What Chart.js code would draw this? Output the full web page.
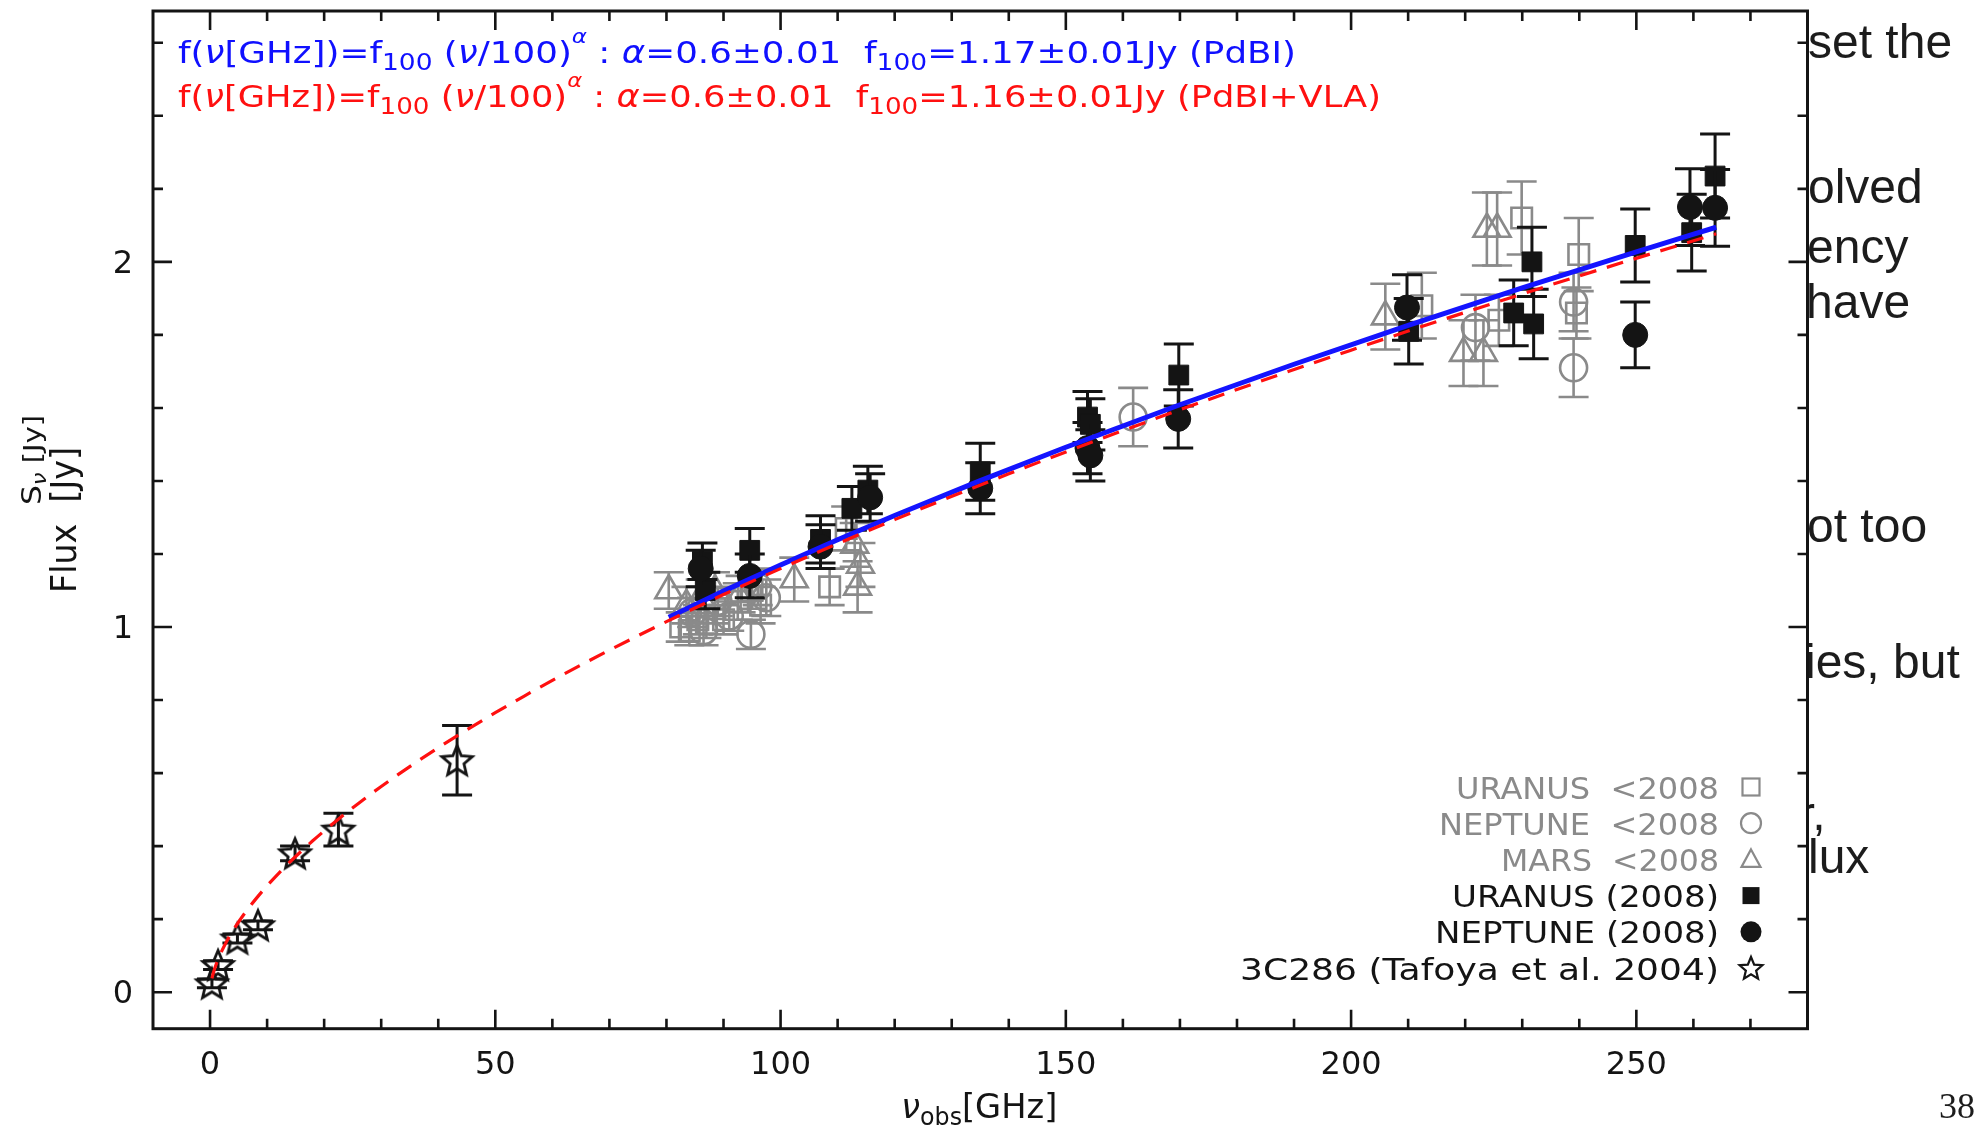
<!DOCTYPE html>
<html>
<head>
<meta charset="utf-8">
<title>Flux calibration: spectral index fit</title>
<script src="https://cdn.jsdelivr.net/npm/chart.js@4.4.1/dist/chart.umd.min.js"></script>
<style>
  html, body { margin: 0; padding: 0; background: #fff; width: 1985px; height: 1127px; overflow: hidden; }
  #fluxChart { position: absolute; left: 0; top: 0; filter: blur(0.75px); }
  #slideText { position: absolute; left: 1809px; top: 0; width: 176px; height: 1127px; overflow: hidden; }
  .line { position: absolute; white-space: nowrap; font-family: "Liberation Sans", Arial, sans-serif;
          font-size: 48px; line-height: 48px; color: #1c1c1c; }
  #pageNo { position: absolute; left: 1939px; top: 1088px; font-family: "Liberation Serif", "Times New Roman", serif;
            font-size: 36px; line-height: 36px; color: #1c1c1c; }
</style>
</head>
<body>
<canvas id="fluxChart" width="1985" height="1127"></canvas>
<div id="slideText">
  <div class="line" style="left:-1px; top:17.7px">set the</div>
  <div class="line" style="left:-1px; top:162.7px">olved</div>
  <div class="line" style="left:-2px; top:222.7px">ency</div>
  <div class="line" style="left:-3px; top:278px">have</div>
  <div class="line" style="left:-2px; top:502px">ot too</div>
  <div class="line" style="left:-4px; top:638px">ies, but</div>
  <div class="line" style="left:-10px; top:790px">r,</div>
  <div class="line" style="left:-1px; top:832.7px">lux</div>
</div>
<div id="pageNo">38</div>

<script>
// ---------------------------------------------------------------------------
// Measured flux densities: frequency [GHz], flux [Jy], 1-sigma error [Jy]
// ---------------------------------------------------------------------------
const seriesNames = [
  'URANUS  <2008', 'NEPTUNE  <2008', 'MARS  <2008',
  'URANUS (2008)', 'NEPTUNE (2008)', '3C286 (Tafoya et al. 2004)'
];

// Uranus, archival (< 2008)
const uranusOldFreq = [82.5, 84.0, 85.5, 87.0, 88.5, 90.0, 92.5, 95.0, 96.5, 108.6, 111.5, 212.4, 225.9, 229.9, 239.9, 239.5];
const uranusOldFlux = [1.00, 0.99, 1.02, 1.01, 1.05, 1.02, 1.07, 1.10, 1.06, 1.11, 1.27, 1.88, 1.84, 2.12, 2.02, 1.86];
const uranusOldErr  = [0.04, 0.04, 0.04, 0.04, 0.04, 0.04, 0.05, 0.05, 0.05, 0.05, 0.06, 0.09, 0.07, 0.10, 0.10, 0.07];

// Neptune, archival (< 2008)
const neptuneOldFreq = [84.5, 86.5, 89.0, 91.0, 94.8, 96.0, 97.5, 161.8, 221.8, 239.0, 239.0];
const neptuneOldFlux = [1.04, 0.99, 1.07, 1.03, 0.98, 1.11, 1.08, 1.575, 1.82, 1.89, 1.71];
const neptuneOldErr  = [0.04, 0.04, 0.04, 0.04, 0.04, 0.05, 0.05, 0.08, 0.09, 0.08, 0.08];

// Mars, archival (< 2008)
const marsOldFreq = [80.4, 83.5, 86.0, 88.5, 93.0, 102.4, 113.0, 113.5, 114.0, 206.0, 219.7, 223.2, 223.8, 225.6];
const marsOldFlux = [1.10, 1.06, 1.08, 1.10, 1.09, 1.13, 1.225, 1.11, 1.17, 1.85, 1.75, 1.75, 2.09, 2.09];
const marsOldErr  = [0.05, 0.05, 0.05, 0.05, 0.05, 0.06, 0.06, 0.07, 0.06, 0.09, 0.09, 0.09, 0.10, 0.10];

// Uranus, 2008 campaign
const uranusFreq = [86.3, 86.8, 94.6, 107.0, 112.5, 115.3, 135.0, 153.8, 154.3, 169.8, 210.1, 228.5, 231.7, 232.0, 249.8, 259.7, 263.8];
const uranusFlux = [1.18, 1.10, 1.21, 1.24, 1.325, 1.375, 1.425, 1.575, 1.555, 1.69, 1.81, 1.86, 2.00, 1.83, 2.045, 2.08, 2.235];
const uranusErr  = [0.05, 0.05, 0.06, 0.065, 0.06, 0.065, 0.078, 0.07, 0.07, 0.085, 0.09, 0.09, 0.095, 0.095, 0.10, 0.105, 0.115];

// Neptune, 2008 campaign
const neptuneFreq = [86.0, 94.6, 107.0, 115.7, 135.0, 153.8, 154.3, 169.7, 209.8, 249.8, 259.4, 263.8];
const neptuneFlux = [1.16, 1.14, 1.22, 1.355, 1.38, 1.49, 1.47, 1.57, 1.875, 1.80, 2.15, 2.148];
const neptuneErr  = [0.05, 0.06, 0.06, 0.065, 0.07, 0.07, 0.07, 0.08, 0.09, 0.09, 0.105, 0.105];

// 3C286, VLA bands (Tafoya et al. 2004)
const q3c286Freq = [0.33, 1.4, 4.8, 8.4, 14.9, 22.5, 43.3];
const q3c286Flux = [0.024, 0.074, 0.147, 0.183, 0.38, 0.445, 0.635];
const q3c286Err  = [0.012, 0.012, 0.012, 0.012, 0.02, 0.045, 0.095];

// Power-law fits f(nu) = f100 * (nu/100)^alpha
const fitAlpha = 0.6, fitAlphaErr = 0.01;
const f100PdBI = 1.17, f100PdBIErr = 0.01;
const f100PdBIVLA = 1.16, f100PdBIVLAErr = 0.01;
const fitFreqPdBI = [80.4, 85, 90, 100, 110, 120, 135, 150, 170, 190, 210, 230, 250, 264];
const fitFreqPdBIVLA = [0.33, 0.6, 1, 1.5, 2, 3, 4, 5, 6.5, 8, 10, 12.5, 15, 18, 22, 26, 30, 35, 40, 45, 50,
                        55, 60, 65, 70, 75, 80, 90, 100, 120, 140, 160, 180, 200, 220, 240, 264];

// Axis ranges and labelled ticks
const xMin = -10, xMax = 280;
const yMin = -0.1, yMax = 2.687;
const xTickValues = [0, 50, 100, 150, 200, 250];
const yTickValues = [0, 1, 2];

// ---------------------------------------------------------------------------
const W = 1985, H = 1127;
const PLOT = { left: 153, top: 11, right: 1807.5, bottom: 1028.7 };
const FONT = '"DejaVu Sans", "Noto Sans", sans-serif';
const GRAY = '#8a8a8a';
const INK = '#141414';

const toPoints = (xs, ys) => xs.map((x, i) => ({ x, y: ys[i] }));
const powerLaw = (f100, nus) => nus.map(nu => ({ x: nu, y: f100 * Math.pow(nu / 100, fitAlpha) }));

// five-pointed open star used as a point style
function makeStar(outer, lw, color) {
  const pad = Math.ceil(lw) + 2;
  const size = Math.ceil(2 * outer + 2 * pad);
  const c = document.createElement('canvas');
  c.width = size; c.height = size;
  const g = c.getContext('2d');
  const cx = size / 2, cy = size / 2 + outer * 0.08, inner = outer * 0.45;
  g.beginPath();
  for (let i = 0; i < 10; i++) {
    const r = i % 2 ? inner : outer;
    const a = -Math.PI / 2 + i * Math.PI / 5;
    const px = cx + r * Math.cos(a), py = cy + r * Math.sin(a);
    if (i) g.lineTo(px, py); else g.moveTo(px, py);
  }
  g.closePath();
  g.lineWidth = lw; g.strokeStyle = color; g.lineJoin = 'miter';
  g.stroke();
  return c;
}
const starMarker = makeStar(16, 2.8, INK);
const starLegend = makeStar(12, 2.2, INK);

function scatterSet(label, xs, ys, errs, style, opts) {
  return Object.assign({
    label, type: 'scatter', data: toPoints(xs, ys), errorBars: errs,
    pointStyle: style, showLine: false
  }, opts);
}

const datasets = [
  { label: 'fit PdBI+VLA', type: 'line', data: powerLaw(f100PdBIVLA, fitFreqPdBIVLA),
    borderColor: '#ff1010', borderWidth: 3.2, borderDash: [17, 11], pointRadius: 0,
    cubicInterpolationMode: 'monotone', order: 0 },
  { label: 'fit PdBI', type: 'line', data: powerLaw(f100PdBI, fitFreqPdBI),
    borderColor: '#1414ff', borderWidth: 5, pointRadius: 0,
    cubicInterpolationMode: 'monotone', order: 1 },
  scatterSet(seriesNames[5], q3c286Freq, q3c286Flux, q3c286Err, starMarker,
    { errColor: INK, errWidth: 3, order: 2 }),
  scatterSet(seriesNames[4], neptuneFreq, neptuneFlux, neptuneErr, 'circle',
    { pointRadius: 12.5, pointBackgroundColor: INK, pointBorderColor: INK, pointBorderWidth: 1,
      errColor: INK, errWidth: 3, order: 3 }),
  scatterSet(seriesNames[3], uranusFreq, uranusFlux, uranusErr, 'rect',
    { pointRadius: 14, pointBackgroundColor: INK, pointBorderColor: INK, pointBorderWidth: 1,
      errColor: INK, errWidth: 3, order: 4 }),
  scatterSet(seriesNames[2], marsOldFreq, marsOldFlux, marsOldErr, 'triangle',
    { pointRadius: 15.5, pointBackgroundColor: 'rgba(0,0,0,0)', pointBorderColor: GRAY, pointBorderWidth: 2.6,
      errColor: GRAY, errWidth: 2.6, order: 5 }),
  scatterSet(seriesNames[1], neptuneOldFreq, neptuneOldFlux, neptuneOldErr, 'circle',
    { pointRadius: 13.5, pointBackgroundColor: 'rgba(0,0,0,0)', pointBorderColor: GRAY, pointBorderWidth: 2.6,
      errColor: GRAY, errWidth: 2.6, order: 6 }),
  scatterSet(seriesNames[0], uranusOldFreq, uranusOldFlux, uranusOldErr, 'rect',
    { pointRadius: 14.5, pointBackgroundColor: 'rgba(0,0,0,0)', pointBorderColor: GRAY, pointBorderWidth: 2.6,
      errColor: GRAY, errWidth: 2.6, order: 7 })
];

// vertical error bars with caps, drawn just under each dataset's markers
const errorBarPlugin = {
  id: 'errorBars',
  beforeDatasetDraw(chart, args) {
    const ds = chart.data.datasets[args.index];
    if (!ds.errorBars) return;
    const { ctx, scales: { x, y } } = chart;
    const cap = 15;
    ctx.save();
    ctx.strokeStyle = ds.errColor; ctx.lineWidth = ds.errWidth; ctx.lineCap = 'butt';
    ds.data.forEach((p, i) => {
      const e = ds.errorBars[i];
      const px = x.getPixelForValue(p.x);
      const yTop = y.getPixelForValue(p.y + e), yBot = y.getPixelForValue(p.y - e);
      ctx.beginPath();
      ctx.moveTo(px, yTop); ctx.lineTo(px, yBot);
      ctx.moveTo(px - cap, yTop); ctx.lineTo(px + cap, yTop);
      ctx.moveTo(px - cap, yBot); ctx.lineTo(px + cap, yBot);
      ctx.stroke();
    });
    ctx.restore();
  }
};

// box frame with inward major/minor ticks on all four sides
const framePlugin = {
  id: 'frame',
  afterDatasetsDraw(chart) {
    const { ctx, chartArea: a, scales: { x, y } } = chart;
    ctx.save();
    ctx.strokeStyle = INK; ctx.lineWidth = 2.6;
    ctx.beginPath();
    for (let v = -10; v <= 280; v += 10) {
      const px = x.getPixelForValue(v);
      if (px <= a.left + 1 || px >= a.right - 1) continue;
      const len = v % 50 === 0 ? 19 : 10;
      ctx.moveTo(px, a.bottom); ctx.lineTo(px, a.bottom - len);
      ctx.moveTo(px, a.top); ctx.lineTo(px, a.top + len);
    }
    for (let k = 0; k <= 13; k++) {
      const v = k * 0.2;
      const py = y.getPixelForValue(v);
      const len = k % 5 === 0 ? 19 : 10;
      ctx.moveTo(a.left, py); ctx.lineTo(a.left + len, py);
      ctx.moveTo(a.right, py); ctx.lineTo(a.right - len, py);
    }
    ctx.stroke();
    ctx.lineWidth = 3;
    ctx.strokeRect(a.left, a.top, a.right - a.left, a.bottom - a.top);
    ctx.restore();
  }
};

// text run made of pieces with their own size, italics and baseline shift,
// squeezed horizontally to a given overall width
function drawRun(ctx, pieces, x, baseline, width, color, align) {
  let total = 0;
  const sized = pieces.map(p => {
    ctx.font = (p.it ? 'italic ' : '') + p.size + 'px ' + FONT;
    const w = ctx.measureText(p.t).width;
    total += w;
    return Object.assign({ w }, p);
  });
  const sx = width ? width / total : 1;
  ctx.save();
  ctx.fillStyle = color;
  ctx.textBaseline = 'alphabetic';
  ctx.textAlign = 'left';
  const startX = align === 'right' ? x - total * sx : align === 'center' ? x - total * sx / 2 : x;
  ctx.translate(startX, baseline);
  ctx.scale(sx, 1);
  let cx = 0;
  sized.forEach(p => {
    ctx.font = (p.it ? 'italic ' : '') + p.size + 'px ' + FONT;
    ctx.fillText(p.t, cx, p.dy || 0);
    cx += p.w;
  });
  ctx.restore();
}

function formulaPieces(f100, f100Err, tag) {
  const M = 31, S = 23, SUP = 20;
  return [
    { t: 'f(', size: M }, { t: 'ν', size: M, it: true }, { t: '[GHz])=f', size: M },
    { t: '100', size: S, dy: 7 },
    { t: ' (', size: M }, { t: 'ν', size: M, it: true }, { t: '/100)', size: M },
    { t: 'α', size: SUP, it: true, dy: -20 },
    { t: ' : ', size: M }, { t: 'α', size: M, it: true },
    { t: '=' + fitAlpha.toFixed(1) + '±' + fitAlphaErr.toFixed(2) + '  f', size: M },
    { t: '100', size: S, dy: 7 },
    { t: '=' + f100.toFixed(2) + '±' + f100Err.toFixed(2) + 'Jy (' + tag + ')', size: M }
  ];
}

function legendSymbol(ctx, kind, cx, cy) {
  ctx.save();
  ctx.beginPath();
  if (kind === 'openRect') {
    ctx.strokeStyle = GRAY; ctx.lineWidth = 2.2; ctx.strokeRect(cx - 8.5, cy - 8.5, 17, 17);
  } else if (kind === 'openCircle') {
    ctx.strokeStyle = GRAY; ctx.lineWidth = 2.2; ctx.arc(cx, cy, 10, 0, Math.PI * 2); ctx.stroke();
  } else if (kind === 'openTri') {
    ctx.strokeStyle = GRAY; ctx.lineWidth = 2.2;
    ctx.moveTo(cx, cy - 10); ctx.lineTo(cx + 9.5, cy + 7.5); ctx.lineTo(cx - 9.5, cy + 7.5); ctx.closePath(); ctx.stroke();
  } else if (kind === 'rect') {
    ctx.fillStyle = INK; ctx.fillRect(cx - 8.5, cy - 8.5, 17, 17);
  } else if (kind === 'circle') {
    ctx.fillStyle = INK; ctx.arc(cx, cy, 10.5, 0, Math.PI * 2); ctx.fill();
  } else if (kind === 'star') {
    ctx.drawImage(starLegend, cx - starLegend.width / 2, cy - starLegend.height / 2);
  }
  ctx.restore();
}

// annotation texts: fit formulas, legend, axis titles
const annotationPlugin = {
  id: 'annotations',
  afterDraw(chart) {
    const { ctx, chartArea: a } = chart;
    // fit formulas
    drawRun(ctx, formulaPieces(f100PdBI, f100PdBIErr, 'PdBI'), 178, 63, 1118, '#1010ff');
    drawRun(ctx, formulaPieces(f100PdBIVLA, f100PdBIVLAErr, 'PdBI+VLA'), 178, 106.5, 1203, '#ff1010');

    // legend (text right-aligned, symbol on the right)
    const legendRows = [
      { kind: 'openRect', color: GRAY, width: 263 },
      { kind: 'openCircle', color: GRAY, width: 280 },
      { kind: 'openTri', color: GRAY, width: 218 },
      { kind: 'rect', color: INK, width: 267 },
      { kind: 'circle', color: INK, width: 284 },
      { kind: 'star', color: INK, width: 479 }
    ];
    legendRows.forEach((row, i) => {
      const cy = 787 + i * 36.2;
      drawRun(ctx, [{ t: seriesNames[i], size: 31 }], 1719, cy + 11.5, row.width, row.color, 'right');
      legendSymbol(ctx, row.kind, 1751, cy);
    });

    // x axis title: nu_obs [GHz]
    drawRun(ctx, [
      { t: 'ν', size: 34, it: true }, { t: 'obs', size: 24, dy: 7 }, { t: '[GHz]', size: 34 }
    ], (a.left + a.right) / 2 - 1, 1118, 156, INK, 'center');

    // y axis title, rotated
    ctx.save();
    ctx.translate(76, 520);
    ctx.rotate(-Math.PI / 2);
    drawRun(ctx, [{ t: 'Flux  [Jy]', size: 36 }], 0, 0, 146, INK, 'center');
    ctx.restore();
    ctx.save();
    ctx.translate(41, 460);
    ctx.rotate(-Math.PI / 2);
    drawRun(ctx, [
      { t: 'S', size: 26 }, { t: 'ν', size: 19, it: true, dy: 5 }, { t: ' [Jy]', size: 24 }
    ], 0, 0, 90, INK, 'center');
    ctx.restore();
  }
};

new Chart(document.getElementById('fluxChart'), {
  type: 'scatter',
  data: { datasets },
  options: {
    responsive: false,
    devicePixelRatio: 1,
    animation: false,
    events: [],
    layout: { autoPadding: false, padding: { top: PLOT.top, right: W - PLOT.right, bottom: 0, left: 0 } },
    plugins: { legend: { display: false }, tooltip: { enabled: false }, title: { display: false } },
    scales: {
      x: {
        type: 'linear', position: 'bottom', min: xMin, max: xMax,
        afterBuildTicks: s => { s.ticks = xTickValues.map(v => ({ value: v })); },
        afterFit: s => { s.height = H - PLOT.bottom; s.paddingLeft = 0; s.paddingRight = 0; s.paddingTop = 0; s.paddingBottom = 0; },
        grid: { display: false, drawTicks: false }, border: { display: false },
        ticks: { font: { family: FONT, size: 32 }, color: INK, padding: 18, maxRotation: 0, autoSkip: false }
      },
      y: {
        type: 'linear', position: 'left', min: yMin, max: yMax,
        afterBuildTicks: s => { s.ticks = yTickValues.map(v => ({ value: v })); },
        afterFit: s => { s.width = PLOT.left; s.paddingLeft = 0; s.paddingRight = 0; s.paddingTop = 0; s.paddingBottom = 0; },
        grid: { display: false, drawTicks: false }, border: { display: false },
        ticks: { font: { family: FONT, size: 32 }, color: INK, padding: 20, labelOffset: 2.5, autoSkip: false }
      }
    }
  },
  plugins: [errorBarPlugin, framePlugin, annotationPlugin]
});
</script>
</body>
</html>
